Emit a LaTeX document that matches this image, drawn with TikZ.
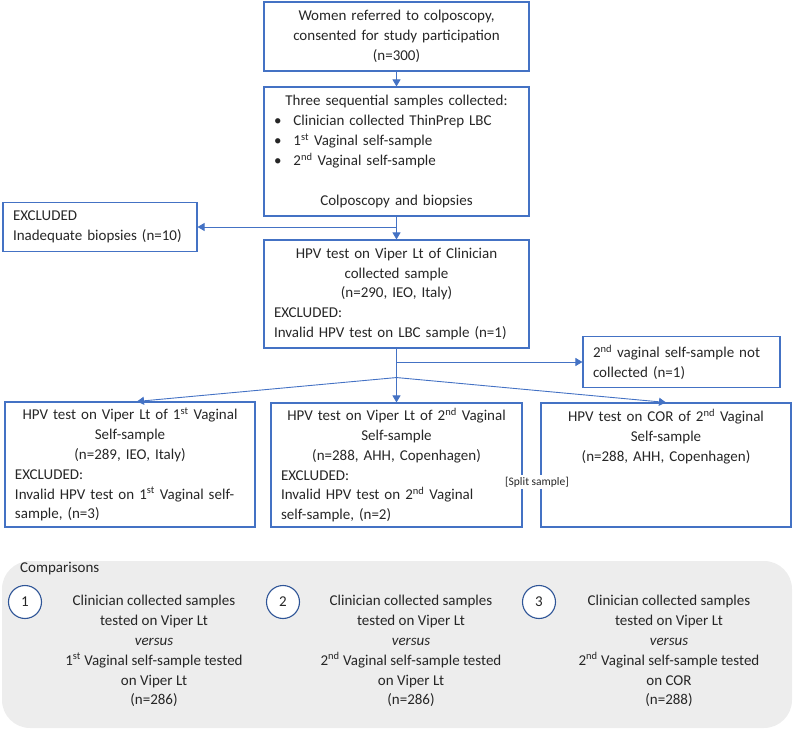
\documentclass[tikz,border=0pt]{standalone}
\usepackage{fontspec}
\setmainfont{Carlito}
\usetikzlibrary{arrows.meta}
\definecolor{boxblue}{HTML}{4472C4}
\definecolor{ringblue}{HTML}{2F5597}
\definecolor{panelgray}{HTML}{EDEDED}
\definecolor{inkgray}{HTML}{262626}

\begin{document}
\begin{tikzpicture}[x=1pt, y=-1pt, text=inkgray,
    font=\fontsize{15}{19.9}\selectfont,
    flowbox/.style={draw=boxblue, line width=1.1pt, inner xsep=10pt, inner ysep=0pt, align=center},
    flowline/.style={draw=boxblue, line width=0.9pt},
    flowarrow/.style={flowline, -{Triangle[length=7pt,width=8pt]}},
    numring/.style={circle, draw=ringblue, line width=1.1pt, fill=white, minimum size=33pt, inner sep=0pt}]
\useasboundingbox (0,0) rectangle (793,730);
% top of the flow
\node[flowbox, text width=245pt, minimum height=69pt] (women) at (396.5,36.5)
    {Women referred to colposcopy,\\ consented for study participation\\ (n=300)};
\node[flowbox, text width=245pt, minimum height=129pt] (samples) at (396.5,151.5)
    {Three sequential samples collected:\\
     \textbullet\hspace{12pt}Clinician collected ThinPrep LBC\hfill\mbox{}\\
     \textbullet\hspace{12pt}1\textsuperscript{st} Vaginal self-sample\hfill\mbox{}\\
     \textbullet\hspace{12pt}2\textsuperscript{nd} Vaginal self-sample\hfill\mbox{}\\
     \mbox{}\\ Colposcopy and biopsies};
\node[flowbox, text width=174pt, minimum height=49pt, align=left] (biopsies) at (100,227)
    {EXCLUDED\\ Inadequate biopsies (n=10)};
\node[flowbox, text width=245pt, minimum height=108pt] (clinician) at (396.5,294)
    {HPV test on Viper Lt of Clinician\\ collected sample\\ (n=290, IEO, Italy)\\
     EXCLUDED:\hfill\mbox{}\\ Invalid HPV test on LBC sample (n=1)\hfill\mbox{}};
\node[flowbox, text width=177pt, minimum height=51pt, align=left] (notcollected) at (681.5,362)
    {2\textsuperscript{nd} vaginal self-sample not\\ collected (n=1)};
% three tests
\node[flowbox, text width=230pt, minimum height=125pt] (viperfirst) at (130,464.5)
    {HPV test on Viper Lt of 1\textsuperscript{st} Vaginal\\ Self-sample\\ (n=289, IEO, Italy)\\
     EXCLUDED:\hfill\mbox{}\\ Invalid HPV test on 1\textsuperscript{st} Vaginal self-\hfill\mbox{}\\
     sample, (n=3)\hfill\mbox{}};
\node[flowbox, text width=231pt, minimum height=124pt] (vipersecond) at (396.5,465)
    {HPV test on Viper Lt of 2\textsuperscript{nd} Vaginal\\ Self-sample\\ (n=288, AHH, Copenhagen)\\
     EXCLUDED:\hfill\mbox{}\\ Invalid HPV test on 2\textsuperscript{nd} Vaginal\hfill\mbox{}\\
     self-sample, (n=2)\hfill\mbox{}};
\node[flowbox, text width=230pt, minimum height=124pt] (corsecond) at (666,465)
    {HPV test on COR of 2\textsuperscript{nd} Vaginal\\ Self-sample\\ (n=288, AHH, Copenhagen)\\
     \mbox{}\\ \mbox{}\\ \mbox{}};
\node[fill=white, inner sep=2pt, font=\fontsize{11.5}{13}\selectfont] (splitsample) at (537,482) {[Split sample]};
% connectors
\coordinate (fork) at ([yshift=-29pt]clinician.south);
\draw[flowarrow] (women) -- (samples);
\draw[flowarrow] (samples) -- (clinician);
\draw[flowarrow] (samples.south |- biopsies.east) -- (biopsies.east);
\draw[flowarrow] (clinician) -- (vipersecond);
\draw[flowarrow] (clinician.south |- notcollected.west) -- (notcollected.west);
\draw[flowarrow] (fork) -- ([xshift=7pt]viperfirst.north);
\draw[flowarrow] (fork) -- (corsecond.north);
% comparisons
\node[fill=panelgray, rounded corners=28pt, minimum width=790pt, minimum height=167pt, inner sep=0pt] (panel) at (397,644.5) {};
\node[anchor=west, inner sep=0pt] (comptitle) at (20,569) {Comparisons};
\node[numring] (ringone) at (25,602) {1};
\node[numring] (ringtwo) at (283,602) {2};
\node[numring] (ringthree) at (539,602) {3};
\node[align=center, inner sep=0pt] (compone) at (154,651)
    {Clinician collected samples\\ tested on Viper Lt\\ \textit{versus}\\
     1\textsuperscript{st} Vaginal self-sample tested\\ on Viper Lt\\ (n=286)};
\node[align=center, inner sep=0pt] (comptwo) at (411,651)
    {Clinician collected samples\\ tested on Viper Lt\\ \textit{versus}\\
     2\textsuperscript{nd} Vaginal self-sample tested\\ on Viper Lt\\ (n=286)};
\node[align=center, inner sep=0pt] (compthree) at (669,651)
    {Clinician collected samples\\ tested on Viper Lt\\ \textit{versus}\\
     2\textsuperscript{nd} Vaginal self-sample tested\\ on COR\\ (n=288)};
\end{tikzpicture}
\end{document}
